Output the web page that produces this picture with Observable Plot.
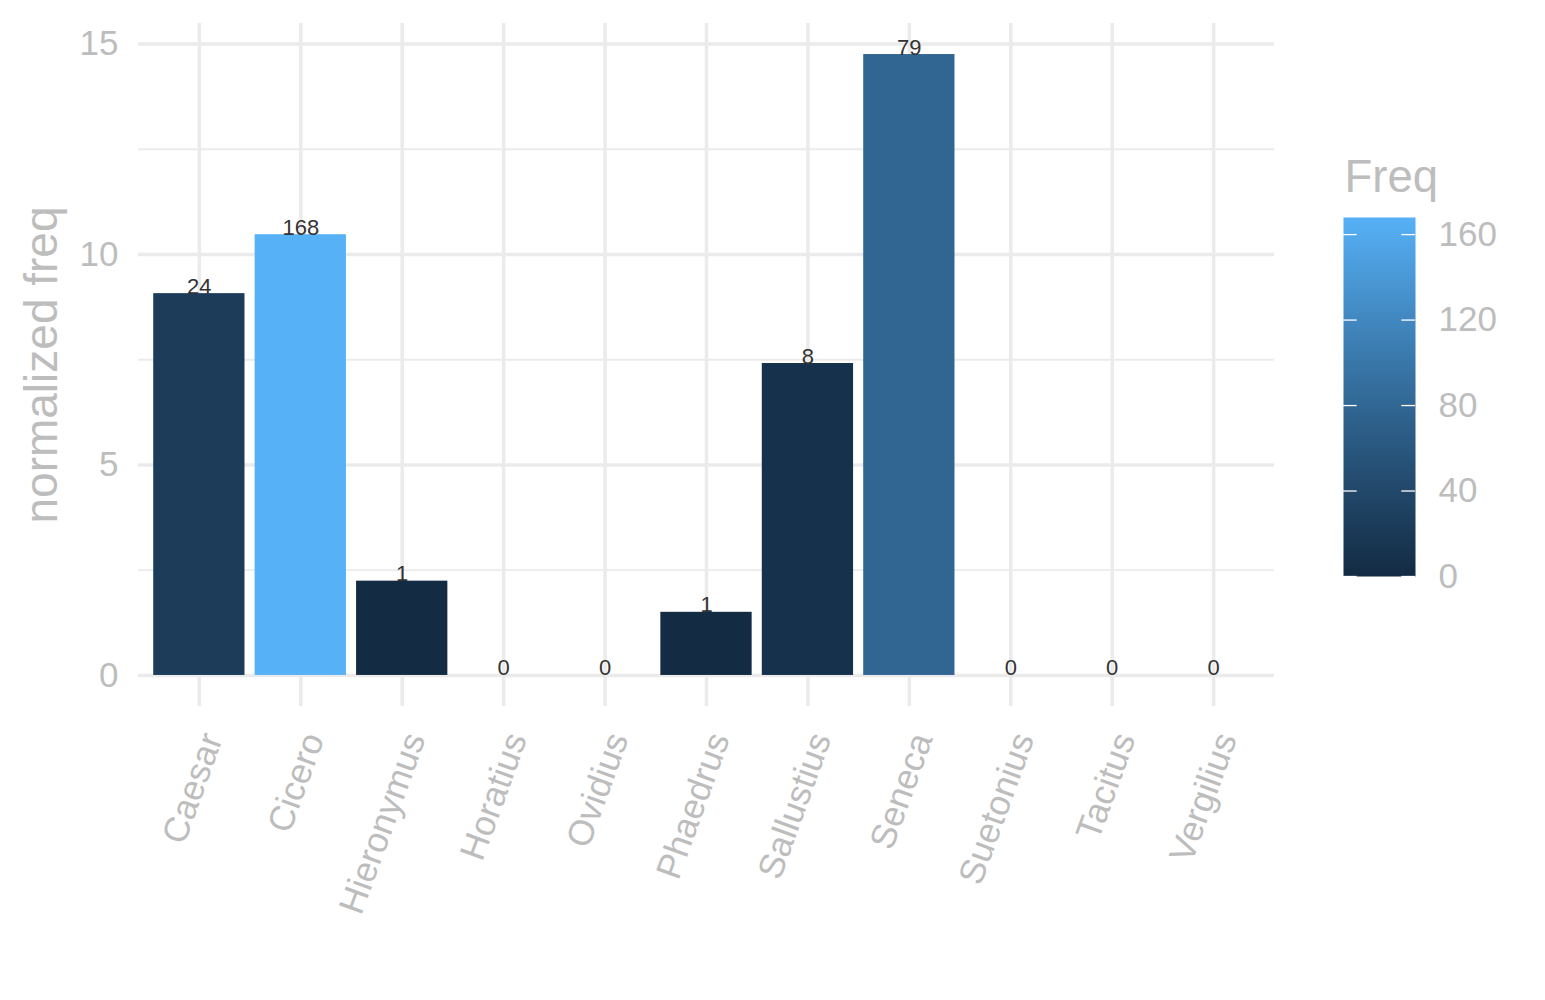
<!DOCTYPE html>
<html><head><meta charset="utf-8">
<script src="https://cdn.jsdelivr.net/npm/d3@7"></script>
<script src="https://cdn.jsdelivr.net/npm/@observablehq/plot@0.6"></script>
<style>
body{margin:0;background:#fff;font-family:"Liberation Sans",Arial,sans-serif;}
#wrap{position:relative;width:1545px;height:1000px;}
#chart{position:absolute;left:0;top:0;}
#legend{position:absolute;left:1330px;top:140px;}
</style></head><body><div id="wrap"><div id="chart"></div><div id="legend"></div></div>
<script>
const authors = ["Caesar","Cicero","Hieronymus","Horatius","Ovidius","Phaedrus","Sallustius","Seneca","Suetonius","Tacitus","Vergilius"];
const normFreq = [9.07,10.47,2.24,0,0,1.50,7.41,14.75,0,0,0];
const freq = [24,168,1,0,0,1,8,79,0,0,0];
const yMajorTicks = [0,5,10,15];
const yMinorTicks = [2.5,7.5,12.5];
const legendTicks = [0,40,80,120,160];

const data = authors.map((a,i)=>({author:a, norm:normFreq[i], freq:freq[i]}));
const grey = "#bdbdbd", gridCol = "#ebebeb";
const font = "'Liberation Sans', Arial, sans-serif";
const maxV = d3.max(normFreq), pad = maxV*0.05;
const colorOpts = {type:"linear", domain:[0, d3.max(freq)], range:["#132B43","#56B1F7"], interpolate:"lab"};

const chart = Plot.plot({
  width:1545, height:1000,
  marginLeft:138, marginRight:271, marginTop:23, marginBottom:294,
  style:{fontFamily:font, background:"white", overflow:"visible"},
  x:{type:"band", domain:authors, paddingInner:0.1, paddingOuter:0.15, round:false},
  y:{domain:[-pad, maxV+pad]},
  color:colorOpts,
  marks:[
    Plot.gridY(yMinorTicks, {stroke:gridCol, strokeOpacity:1, strokeWidth:1.8}),
    Plot.gridY(yMajorTicks, {stroke:gridCol, strokeOpacity:1, strokeWidth:3.5}),
    Plot.gridX({stroke:gridCol, strokeOpacity:1, strokeWidth:3.5}),
    Plot.barY(data, {x:"author", y:"norm", fill:"freq"}),
    Plot.text(data, {x:"author", y:"norm", text:d=>String(d.freq), lineAnchor:"bottom", fontSize:22, fill:"#333"}),
    Plot.axisY(yMajorTicks, {tickSize:0, tickPadding:20, fontSize:35, color:grey, label:null}),
    Plot.axisX({tickSize:0, tickPadding:28, dx:13, tickRotate:-70, fontSize:35.5, color:grey, label:null}),
    Plot.text(["normalized freq"], {text:d=>d, frameAnchor:"left", textAnchor:"middle", lineAnchor:"middle", dx:-96, rotate:-90, fontSize:46, fill:grey})
  ]
});
document.getElementById("chart").append(chart);

const legend = Plot.plot({
  width:215, height:470,
  marginLeft:13, marginRight:130, marginTop:77, marginBottom:34,
  style:{fontFamily:font, background:"transparent", overflow:"visible"},
  x:{domain:[0,1], axis:null},
  y:{domain:[0, d3.max(freq)], axis:null},
  color:colorOpts,
  marks:[
    Plot.raster({x1:0, x2:1, y1:0, y2:d3.max(freq), fill:(x,y)=>y}),
    Plot.ruleY(legendTicks, {y:d=>d, x1:0, x2:0.19, stroke:"white", strokeWidth:1.3}),
    Plot.ruleY(legendTicks, {y:d=>d, x1:0.81, x2:1, stroke:"white", strokeWidth:1.3}),
    Plot.axisY(legendTicks, {anchor:"right", tickSize:0, tickPadding:23, fontSize:35, color:grey, label:null}),
    Plot.text(["Freq"], {text:d=>d, frameAnchor:"top-left", textAnchor:"start", lineAnchor:"bottom", dx:1, dy:-26, fontSize:45.5, fill:grey})
  ]
});
document.getElementById("legend").append(legend);
</script></body></html>
